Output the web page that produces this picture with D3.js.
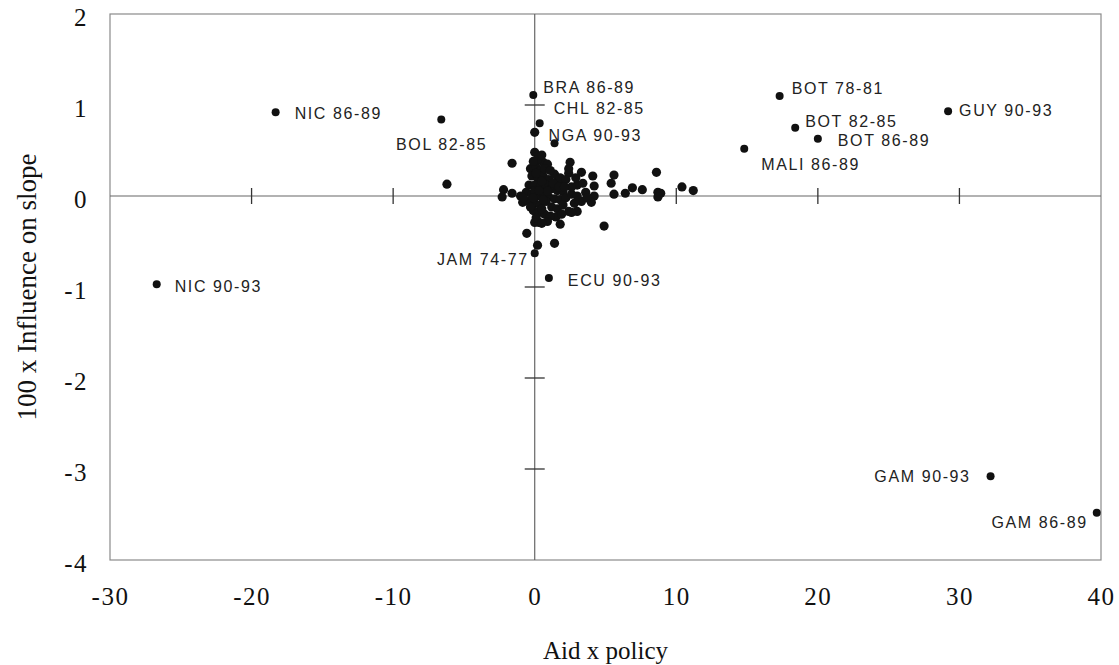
<!DOCTYPE html>
<html>
<head>
<meta charset="utf-8">
<script src="https://cdn.jsdelivr.net/npm/d3@7"></script>
<style>
  body { margin: 0; background: #fff; }
  .tick text { font-family: "Liberation Serif", serif; font-size: 25px; letter-spacing: 1.5px; fill: #111; }
  .title { font-family: "Liberation Serif", serif; font-size: 25px; fill: #111; }
  .ptlabel { font-family: "Liberation Sans", Arial, sans-serif; font-size: 16px; letter-spacing: 1.6px; fill: #222; }
</style>
</head>
<body>
<script>
//tick values on both axes
var xTicks = [-30, -20, -10, 0, 10, 20, 30, 40];
var yTicks = [-4, -3, -2, -1, 0, 1, 2];

//named country-period observations
var labelNames = ["NIC 86-89", "BOL 82-85", "NIC 90-93", "BRA 86-89", "CHL 82-85", "NGA 90-93",
    "JAM 74-77", "ECU 90-93", "BOT 78-81", "BOT 82-85", "BOT 86-89", "MALI 86-89",
    "GUY 90-93", "GAM 90-93", "GAM 86-89"];
var labelX = [-18.3, -6.6, -26.7, -0.1, 0.35, 1.4, 0.0, 1.0, 17.3, 18.4, 20.0, 14.8, 29.2, 32.2, 39.7];
var labelY = [0.92, 0.84, -0.97, 1.11, 0.80, 0.58, -0.63, -0.90, 1.10, 0.75, 0.63, 0.52, 0.93, -3.08, -3.48];

//unlabeled observations [aid x policy, 100 x influence]
var otherPoints = [
    [-6.2, 0.13], [-1.6, 0.36], [-2.2, 0.07], [-2.3, -0.01], [-1.6, 0.03], [-0.85, -0.07],
    [-0.56, -0.41], [0.0, -0.29], [0.3, -0.29], [0.2, -0.54], [0.0, 0.48], [0.0, 0.70],
    [0.3, 0.40], [0.6, 0.37], [0.9, 0.35], [2.5, 0.37], [2.4, 0.25], [3.3, 0.26], [4.1, 0.22],
    [5.6, 0.23], [8.6, 0.26], [5.4, 0.14], [4.2, 0.11], [6.9, 0.09], [7.6, 0.07], [6.4, 0.03],
    [5.6, 0.02], [8.7, 0.04], [8.9, 0.03], [8.7, -0.01], [10.4, 0.10], [11.2, 0.06],
    [4.9, -0.33], [1.4, -0.52], [1.5, -0.23], [1.8, -0.31], [1.6, 0.17], [2.0, 0.15],
    [3.0, 0.12], [4.2, 0.0], [3.3, -0.06], [3.0, -0.17], [2.4, -0.17], [4.0, -0.07], [3.6, 0.04],
    [-0.3, 0.30], [0.1, 0.32], [0.4, 0.28], [-0.2, 0.22], [0.2, 0.20], [0.6, 0.22], [1.0, 0.18],
    [-0.4, 0.12], [0.0, 0.12], [0.4, 0.10], [0.8, 0.12], [1.2, 0.08], [1.6, 0.06], [2.0, 0.05],
    [-0.6, 0.04], [-0.2, 0.02], [0.2, 0.0], [0.6, 0.02], [1.0, -0.01], [1.4, -0.03], [1.8, -0.04],
    [2.2, -0.02], [2.6, 0.02], [-0.4, -0.06], [0.0, -0.08], [0.4, -0.10], [0.8, -0.06],
    [1.2, -0.12], [1.6, -0.14], [2.0, -0.10], [2.8, -0.08], [-0.1, -0.16], [0.3, -0.18],
    [0.7, -0.20], [1.1, -0.22], [0.1, -0.24], [0.5, -0.14], [1.4, 0.24], [1.8, 0.20], [2.2, 0.18],
    [0.2, 0.40], [-0.1, 0.38], [0.5, 0.45], [2.6, 0.10], [3.0, 0.0], [2.4, 0.30], [-1.0, 0.0],
    [-0.8, -0.02], [0.9, 0.05], [1.3, 0.14], [0.0, 0.06], [0.3, 0.06], [-0.3, -0.12], [0.6, -0.04],
    [1.7, 0.10], [2.1, 0.10], [3.4, 0.14], [3.7, -0.02], [2.6, -0.18], [1.9, -0.20], [0.9, -0.28],
    [0.5, -0.30], [0.1, 0.25], [0.7, 0.30], [1.1, 0.28], [-0.1, -0.02], [0.5, 0.16], [2.9, 0.20]
];

//label offsets from each named point: dx, dy, anchor
var labelOffsets = {
    "NIC 86-89": [19, 7, "start"], "BOL 82-85": [46, 30, "end"], "NIC 90-93": [18, 8, "start"],
    "BRA 86-89": [10, -2, "start"], "CHL 82-85": [14, -9, "start"], "NGA 90-93": [-6, -2, "start"],
    "JAM 74-77": [-6, 12, "end"], "ECU 90-93": [19, 8, "start"], "BOT 78-81": [12, -2, "start"],
    "BOT 82-85": [10, -1, "start"], "BOT 86-89": [20, 7, "start"], "MALI 86-89": [17, 21, "start"],
    "GUY 90-93": [11, 5, "start"], "GAM 90-93": [-20, 6, "end"], "GAM 86-89": [-9, 15, "end"]
};

window.onload = setChart;

function setChart(){

    var width = 1119,
        height = 665;

    //plot frame
    var left = 110, right = 1101, top = 14, bottom = 560;

    var svg = d3.select("body")
        .append("svg")
        .attr("width", width)
        .attr("height", height);

    var x = d3.scaleLinear().domain([-30, 40]).range([left, right]);
    var y = d3.scaleLinear().domain([-4, 2]).range([bottom, top]);

    //outer frame
    svg.append("rect")
        .attr("x", left)
        .attr("y", top)
        .attr("width", right - left)
        .attr("height", bottom - top)
        .attr("fill", "none")
        .attr("stroke", "#8a8a8a")
        .attr("stroke-width", 1.2);

    //zero lines
    svg.append("line")
        .attr("x1", left).attr("x2", right)
        .attr("y1", y(0)).attr("y2", y(0))
        .attr("stroke", "#666").attr("stroke-width", 1.2);
    svg.append("line")
        .attr("x1", x(0)).attr("x2", x(0))
        .attr("y1", top).attr("y2", bottom)
        .attr("stroke", "#666").attr("stroke-width", 1.2);

    //cross ticks on the zero lines
    svg.selectAll(".xcross")
        .data(xTicks.filter(function(d){ return d > -30 && d < 40 && d != 0; }))
        .enter()
        .append("line")
        .attr("x1", function(d){ return x(d); })
        .attr("x2", function(d){ return x(d); })
        .attr("y1", y(0) - 8)
        .attr("y2", y(0) + 8)
        .attr("stroke", "#333").attr("stroke-width", 1.3);
    svg.selectAll(".ycross")
        .data(yTicks.filter(function(d){ return d > -4 && d < 2 && d != 0; }))
        .enter()
        .append("line")
        .attr("x1", x(0) - 10)
        .attr("x2", x(0) + 10)
        .attr("y1", function(d){ return y(d); })
        .attr("y2", function(d){ return y(d); })
        .attr("stroke", "#333").attr("stroke-width", 1.3);

    //tick labels via axes, no lines (plain hyphen minus like the original)
    var fmt = function(d){ return String(d); };

    var xAxis = svg.append("g")
        .attr("transform", "translate(0," + bottom + ")")
        .call(d3.axisBottom(x).tickValues(xTicks).tickSize(0).tickPadding(32).tickFormat(fmt));
    xAxis.select(".domain").remove();

    var yAxis = svg.append("g")
        .attr("transform", "translate(" + left + ",0)")
        .call(d3.axisLeft(y).tickValues(yTicks).tickSize(0).tickPadding(22).tickFormat(fmt));
    yAxis.select(".domain").remove();
    yAxis.selectAll("text").attr("dy", "0.45em");
    xAxis.selectAll("text").attr("dy", "0.5em");

    //axis titles
    svg.append("text")
        .attr("class", "title")
        .attr("x", (left + right) / 2)
        .attr("y", 659)
        .attr("text-anchor", "middle")
        .text("Aid x policy");
    svg.append("text")
        .attr("class", "title")
        .attr("transform", "translate(36," + ((top + bottom) / 2) + ") rotate(-90)")
        .attr("text-anchor", "middle")
        .style("font-size", "27px")
        .text("100 x Influence on slope");

    //unlabeled points
    svg.selectAll(".dot")
        .data(otherPoints)
        .enter()
        .append("circle")
        .attr("class", "dot")
        .attr("cx", function(d){ return x(d[0]); })
        .attr("cy", function(d){ return y(d[1]); })
        .attr("r", 4.6)
        .attr("fill", "#111");

    //named points and their labels
    var named = labelNames.map(function(n, i){ return { name: n, x: labelX[i], y: labelY[i] }; });

    svg.selectAll(".named")
        .data(named)
        .enter()
        .append("circle")
        .attr("class", "named")
        .attr("cx", function(d){ return x(d.x); })
        .attr("cy", function(d){ return y(d.y); })
        .attr("r", 4)
        .attr("fill", "#111");

    svg.selectAll(".ptlabel")
        .data(named)
        .enter()
        .append("text")
        .attr("class", "ptlabel")
        .attr("x", function(d){ return x(d.x) + labelOffsets[d.name][0]; })
        .attr("y", function(d){ return y(d.y) + labelOffsets[d.name][1]; })
        .attr("text-anchor", function(d){ return labelOffsets[d.name][2]; })
        .text(function(d){ return d.name; });
};
</script>
</body>
</html>
